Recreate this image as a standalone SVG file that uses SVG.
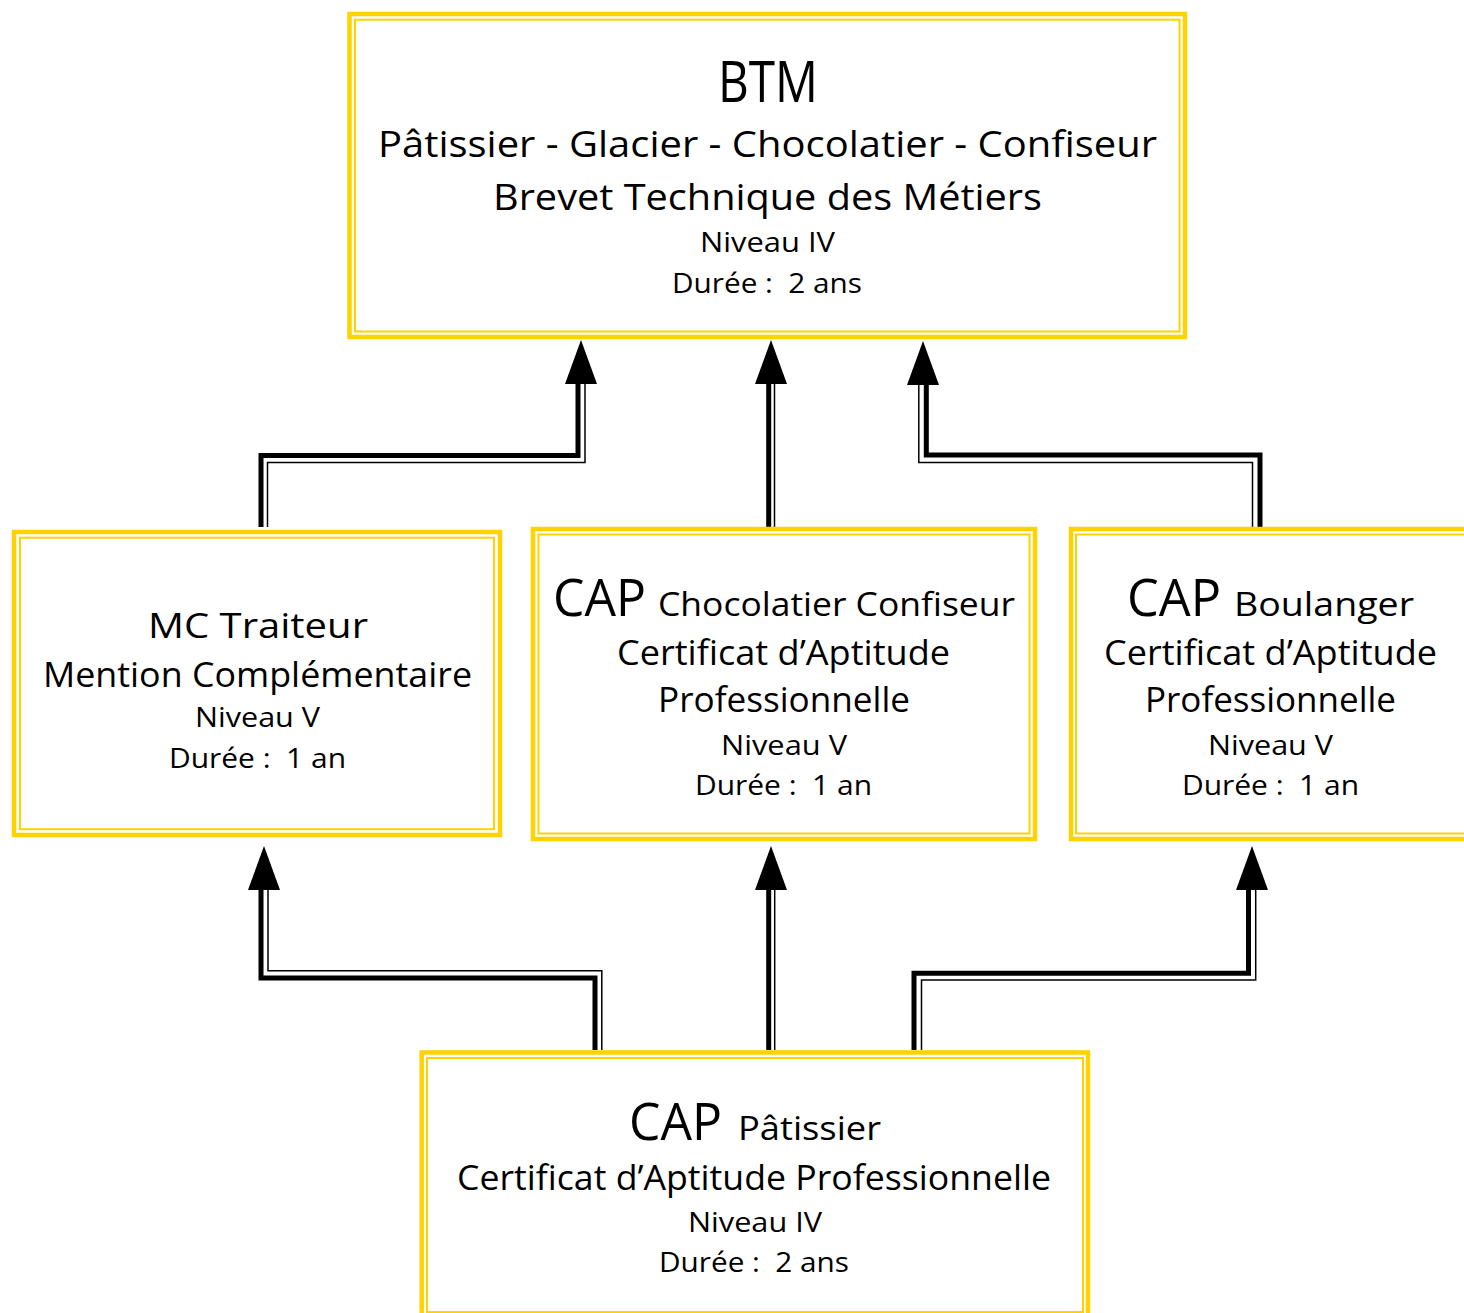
<svg xmlns="http://www.w3.org/2000/svg" width="1464" height="1313" viewBox="0 0 1464 1313">
<style>
.outer{fill:none;stroke:#FFD200;stroke-width:4.5}
.inner{fill:none;stroke:#FFD200;stroke-width:2}
.thick{fill:none;stroke:#000;stroke-width:5;stroke-linejoin:miter;stroke-linecap:butt}
.thin{fill:none;stroke:#000;stroke-width:1.5;stroke-linejoin:miter;stroke-linecap:butt}
.head{fill:#000}
text{font-family:"Open Sans","Noto Sans",sans-serif;fill:#000;white-space:pre}
.big{font-size:54px}
.med{font-size:35px}
.sm{font-size:28px}
</style>
<rect width="1464" height="1313" fill="#fff"/>
<g id="connectors">
  <path class="thick" d="M261 527V455.5H578V383"/>
  <path class="thin" d="M267.5 527V462.5H585V383"/>
  <polygon class="head" points="581,340 565,384 597,384"/>
  <path class="thick" d="M768.7 527V383"/>
  <path class="thin" d="M774.5 527V383"/>
  <polygon class="head" points="771,340 755,384 787,384"/>
  <path class="thick" d="M1260 527V455H926.3V383"/>
  <path class="thin" d="M1252.5 527V462.5H918.8V383"/>
  <polygon class="head" points="923,341 907,385 939,385"/>
  <path class="thick" d="M595 1050V978H261V889"/>
  <path class="thin" d="M601.8 1050V970.7H268V889"/>
  <polygon class="head" points="264,846 248,890 280,890"/>
  <path class="thick" d="M768.7 1050V889"/>
  <path class="thin" d="M774.7 1050V889"/>
  <polygon class="head" points="771,846 755,890 787,890"/>
  <path class="thick" d="M914 1050V973.3H1248.5V889"/>
  <path class="thin" d="M921.5 1050V980H1255.7V889"/>
  <polygon class="head" points="1252,846 1236,890 1268,890"/>
</g>
<g id="btm">
  <rect class="outer" x="349.5" y="14" width="835.5" height="323"/>
  <rect class="inner" x="355" y="19.7" width="824.5" height="311.8"/>
  <text x="718" y="102" style="font-size:56px" textLength="100" lengthAdjust="spacingAndGlyphs">BTM</text>
  <text x="378" y="157" style="font-size:37px" textLength="779" lengthAdjust="spacingAndGlyphs">Pâtissier - Glacier - Chocolatier - Confiseur</text>
  <text x="493" y="210" style="font-size:37px" textLength="549" lengthAdjust="spacingAndGlyphs">Brevet Technique des Métiers</text>
  <text x="700" y="252" class="sm" textLength="135" lengthAdjust="spacingAndGlyphs">Niveau IV</text>
  <text x="672" y="293" class="sm" textLength="190" lengthAdjust="spacingAndGlyphs">Durée :  2 ans</text>
</g>
<g id="mc">
  <rect class="outer" x="14" y="532" width="486" height="303"/>
  <rect class="inner" x="20" y="537.7" width="474" height="291.5"/>
  <text x="148" y="638" class="med" textLength="220" lengthAdjust="spacingAndGlyphs">MC Traiteur</text>
  <text x="43" y="687" class="med" textLength="429" lengthAdjust="spacingAndGlyphs">Mention Complémentaire</text>
  <text x="195" y="727" class="sm" textLength="125" lengthAdjust="spacingAndGlyphs">Niveau V</text>
  <text x="169" y="768" class="sm" textLength="177" lengthAdjust="spacingAndGlyphs">Durée :  1 an</text>
</g>
<g id="cap-choco">
  <rect class="outer" x="533" y="529" width="502" height="310"/>
  <rect class="inner" x="538.5" y="534.5" width="491" height="299"/>
  <text x="553" y="616" style="font-size:51px" textLength="93" lengthAdjust="spacingAndGlyphs">CAP</text>
  <text x="658" y="616" style="font-size:33px" textLength="357" lengthAdjust="spacingAndGlyphs">Chocolatier Confiseur</text>
  <text x="617" y="665" class="med" textLength="333" lengthAdjust="spacingAndGlyphs">Certificat d’Aptitude</text>
  <text x="658" y="712" class="med" textLength="252" lengthAdjust="spacingAndGlyphs">Professionnelle</text>
  <text x="721" y="755" class="sm" textLength="126" lengthAdjust="spacingAndGlyphs">Niveau V</text>
  <text x="695" y="795" class="sm" textLength="177" lengthAdjust="spacingAndGlyphs">Durée :  1 an</text>
</g>
<g id="cap-boulanger">
  <rect class="outer" x="1071" y="529" width="500" height="310"/>
  <rect class="inner" x="1076" y="534.5" width="490" height="299"/>
  <text x="1127" y="616" style="font-size:51px" textLength="94" lengthAdjust="spacingAndGlyphs">CAP</text>
  <text x="1234" y="616" style="font-size:33px" textLength="180" lengthAdjust="spacingAndGlyphs">Boulanger</text>
  <text x="1104" y="665" class="med" textLength="333" lengthAdjust="spacingAndGlyphs">Certificat d’Aptitude</text>
  <text x="1145" y="712" class="med" textLength="251" lengthAdjust="spacingAndGlyphs">Professionnelle</text>
  <text x="1208" y="755" class="sm" textLength="125" lengthAdjust="spacingAndGlyphs">Niveau V</text>
  <text x="1182" y="795" class="sm" textLength="177" lengthAdjust="spacingAndGlyphs">Durée :  1 an</text>
</g>
<g id="cap-patissier">
  <rect class="outer" x="421.7" y="1052.5" width="666.3" height="265"/>
  <rect class="inner" x="427" y="1058" width="656" height="254"/>
  <text x="629" y="1140" style="font-size:51px" textLength="93" lengthAdjust="spacingAndGlyphs">CAP</text>
  <text x="738" y="1140" style="font-size:33px" textLength="143" lengthAdjust="spacingAndGlyphs">Pâtissier</text>
  <text x="457" y="1190" class="med" textLength="594" lengthAdjust="spacingAndGlyphs">Certificat d’Aptitude Professionnelle</text>
  <text x="688" y="1232" class="sm" textLength="134" lengthAdjust="spacingAndGlyphs">Niveau IV</text>
  <text x="659" y="1272" class="sm" textLength="190" lengthAdjust="spacingAndGlyphs">Durée :  2 ans</text>
</g>
</svg>
